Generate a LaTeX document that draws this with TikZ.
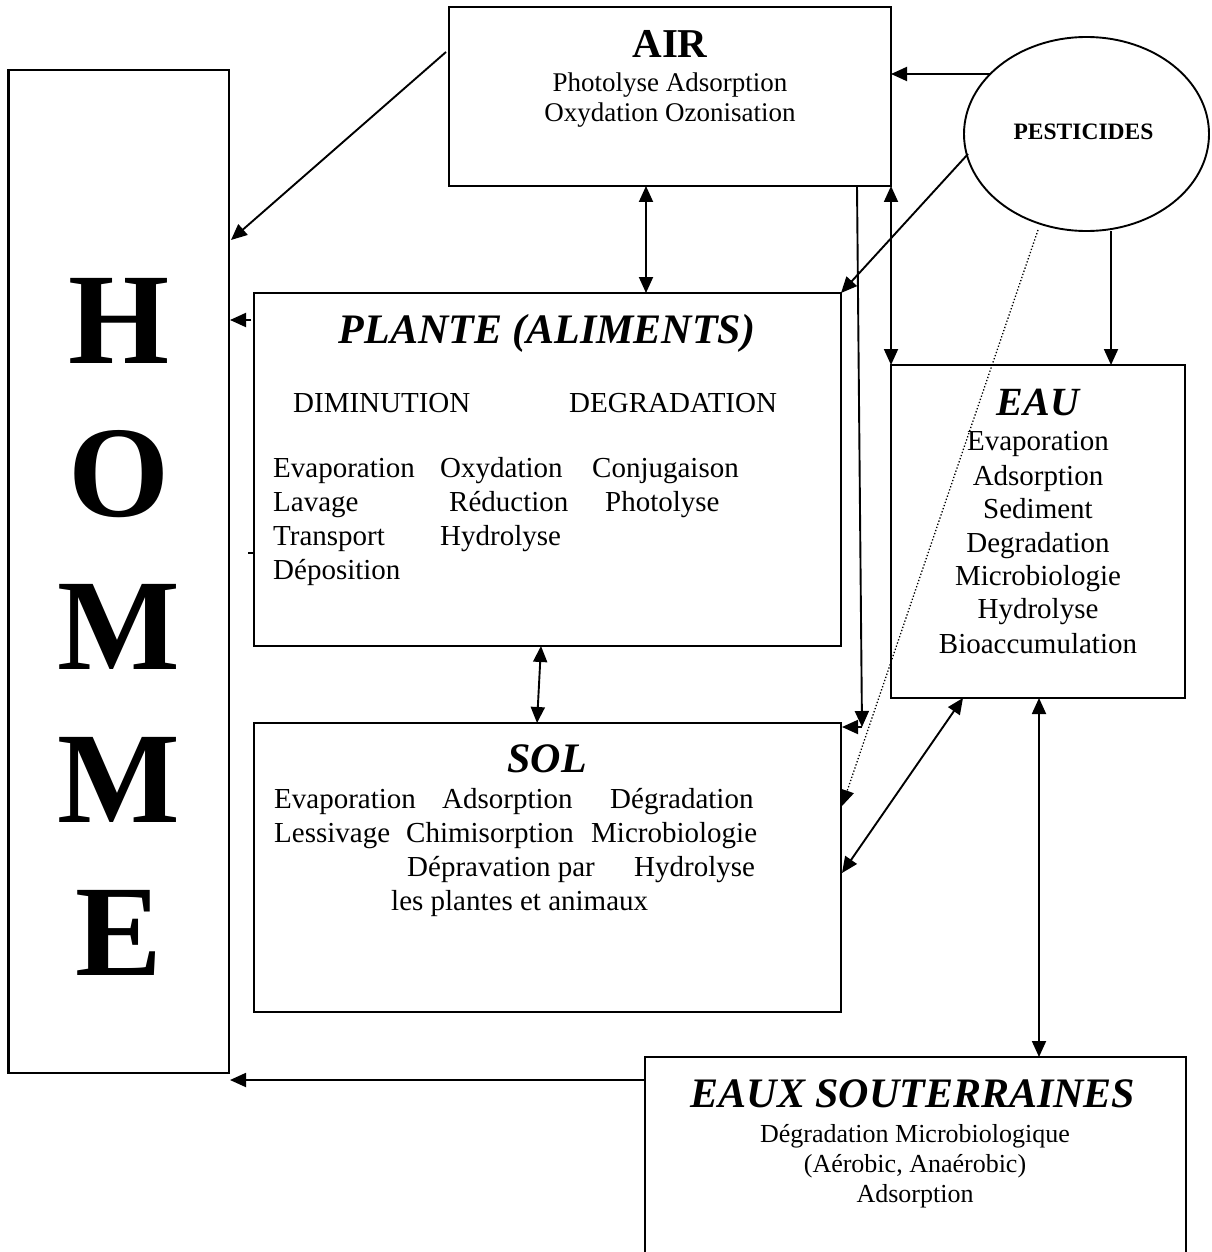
\documentclass[tikz,border=0pt]{standalone}
\usepackage{fontspec}
\setmainfont{Liberation Serif}
\usetikzlibrary{arrows.meta,shapes.geometric}
\begin{document}
\begin{tikzpicture}[x=1pt,y=-1pt,
  box/.style={draw,line width=2.1pt,inner sep=0pt,outer sep=0pt},
  conn/.style={line width=1.9pt},
  >={Triangle[length=16pt,width=14pt]},
  txt/.style={inner sep=0pt,anchor=base west,font=\fontsize{29}{34}\selectfont},
  ctxt/.style={inner sep=0pt,anchor=base,font=\fontsize{29}{34}\selectfont},
  ttl/.style={inner sep=0pt,anchor=base,font=\fontsize{42}{48}\selectfont\bfseries\itshape},
  big/.style={inner sep=0pt,anchor=base,font=\fontsize{130}{140}\selectfont\bfseries}]
\useasboundingbox (0,0) rectangle (1211,1252);
% boxes
\node[box,minimum width=220.5pt,minimum height=1003pt] (homme) at (118.75,571.5) {};
\node[box,minimum width=442pt,minimum height=179pt] (air) at (670,96.5) {};
\node[box,minimum width=587pt,minimum height=353pt] (plante) at (547.5,469.5) {};
\node[box,minimum width=587pt,minimum height=289pt] (sol) at (547.5,867.5) {};
\node[box,minimum width=294pt,minimum height=333pt] (eau) at (1038,531.5) {};
\node[box,minimum width=541pt,minimum height=205pt] (eaux) at (915.5,1159.5) {};
\node[draw,ellipse,line width=1.9pt,inner sep=0pt,minimum width=245pt,minimum height=194pt] (pest) at (1086.5,134) {};
% HOMME
\node[big] (h1) at (119,363) {H};
\node[big] (h2) at (119,516) {O};
\node[big] (h3) at (119,669) {M};
\node[big] (h4) at (119,822) {M};
\node[big] (h5) at (119,975) {E};
% AIR
\node[inner sep=0pt,anchor=base,font=\fontsize{41}{46}\selectfont\bfseries] (airt) at (670,58) {AIR};
\node[inner sep=0pt,anchor=base,font=\fontsize{27}{30}\selectfont] (air1) at (670,92) {Photolyse Adsorption};
\node[inner sep=0pt,anchor=base,font=\fontsize{27}{30}\selectfont] (air2) at (670,122) {Oxydation Ozonisation};
% PESTICIDES
\node[inner sep=0pt,anchor=base,font=\fontsize{23.5}{26}\selectfont\bfseries] (pestt) at (1083.5,140) {PESTICIDES};
% PLANTE
\node[ttl] (plt) at (547,343) {PLANTE (ALIMENTS)};
\node[txt] (dim) at (293,412) {DIMINUTION};
\node[txt] (deg) at (569,412) {DEGRADATION};
\node[txt] (p11) at (273,477) {Evaporation};
\node[txt] (p12) at (440,477) {Oxydation};
\node[txt] (p13) at (592,477) {Conjugaison};
\node[txt] (p21) at (273,511) {Lavage};
\node[txt] (p22) at (449,511) {Réduction};
\node[txt] (p23) at (605,511) {Photolyse};
\node[txt] (p31) at (273,545) {Transport};
\node[txt] (p32) at (440,545) {Hydrolyse};
\node[txt] (p41) at (273,579) {Déposition};
% SOL
\node[ttl] (solt) at (547,772) {SOL};
\node[txt] (s11) at (274,808) {Evaporation};
\node[txt] (s12) at (442,808) {Adsorption};
\node[txt] (s13) at (610,808) {Dégradation};
\node[txt] (s21) at (274,842) {Lessivage};
\node[txt] (s22) at (406,842) {Chimisorption};
\node[txt] (s23) at (591,842) {Microbiologie};
\node[txt] (s31) at (407,876) {Dépravation par};
\node[txt] (s32) at (634,876) {Hydrolyse};
\node[txt] (s41) at (391,910) {les plantes et animaux};
% EAU
\node[inner sep=0pt,anchor=base,font=\fontsize{40}{46}\selectfont\bfseries\itshape] (eaut) at (1038,415) {EAU};
\node[ctxt] (e1) at (1038,450) {Evaporation};
\node[ctxt] (e2) at (1038,485) {Adsorption};
\node[ctxt] (e3) at (1038,518) {Sediment};
\node[ctxt] (e4) at (1038,552) {Degradation};
\node[ctxt] (e5) at (1038,585) {Microbiologie};
\node[ctxt] (e6) at (1038,618) {Hydrolyse};
\node[ctxt] (e7) at (1038,653) {Bioaccumulation};
% EAUX SOUTERRAINES
\node[ttl] (eauxt) at (913,1107) {EAUX SOUTERRAINES};
\node[inner sep=0pt,anchor=base,font=\fontsize{26}{30}\selectfont] (x1) at (915,1142) {Dégradation Microbiologique};
\node[inner sep=0pt,anchor=base,font=\fontsize{26}{30}\selectfont] (x2) at (915,1172) {(Aérobic, Anaérobic)};
\node[inner sep=0pt,anchor=base,font=\fontsize{26}{30}\selectfont] (x3) at (915,1202) {Adsorption};
% connector end points
\coordinate (a1) at (446,52);
\coordinate (a2) at (231,240);
\coordinate (b1) at (251,320);
\coordinate (b2) at (230,320);
\coordinate (c1) at (645,1080);
\coordinate (c2) at (230,1080);
\coordinate (d1) at (646,186);
\coordinate (d2) at (646,293);
\coordinate (e1p) at (990,74);
\coordinate (e2p) at (891,74);
\coordinate (f1) at (857,186);
\coordinate (f2) at (862,727);
\coordinate (f3) at (842,727);
\coordinate (g1) at (968,154);
\coordinate (h1p) at (1111,231);
\coordinate (h2p) at (1111,365);
\coordinate (i1) at (1038,230);
\coordinate (i2) at (842,806);
\coordinate (j1) at (842,873);
\coordinate (j2) at (963,698);
\coordinate (k1) at (1039,698);
\coordinate (k2) at (1039,1057);
\coordinate (l1) at (541,646);
\coordinate (l2) at (537,723);
\coordinate (m1) at (248,553);
\coordinate (m2) at (254,553);
% connectors
\draw[conn,->] (a1) -- (a2);
\draw[conn,->] (b1) -- (b2);
\draw[conn,->] (c1) -- (c2);
\draw[conn,<->] (d1) -- (d2);
\draw[conn,->] (e1p) -- (e2p);
\draw[conn,->] (f1) -- (f2);
\draw[conn,->] (f2) -- (f3);
\draw[conn,<->] (air.south east) -- (eau.north west);
\draw[conn,->] (g1) -- (plante.north east);
\draw[conn,->] (h1p) -- (h2p);
\draw[line width=1.3pt,dotted,-{Triangle[length=16pt,width=14pt]}] (i1) -- (i2);
\draw[conn,<->] (j1) -- (j2);
\draw[conn,<->] (k1) -- (k2);
\draw[conn,<->] (l1) -- (l2);
\draw[line width=1.3pt] (m1) -- (m2);
\end{tikzpicture}
\end{document}
